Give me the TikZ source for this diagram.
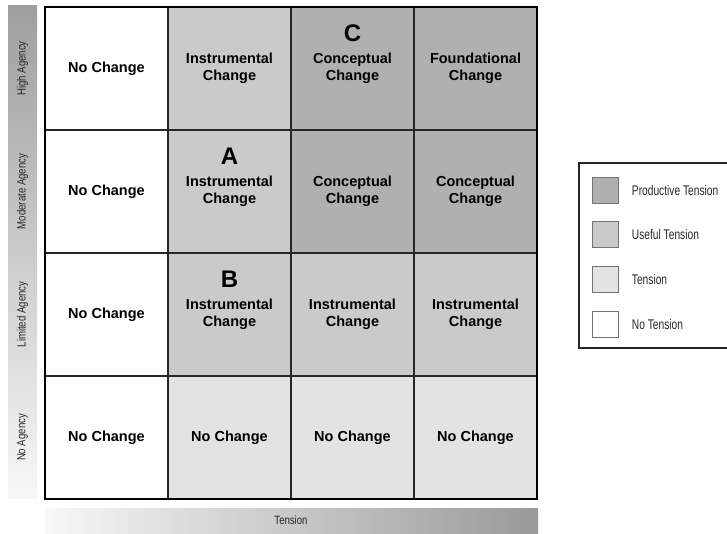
\documentclass[tikz,border=0pt]{standalone}
\usepackage{fontspec}
\setmainfont{Liberation Sans}
\newfontfamily\narrowfont[FakeStretch=0.8]{Liberation Sans}
\newfontfamily\legendfont[FakeStretch=0.73]{Liberation Sans}
\usetikzlibrary{positioning}
\definecolor{prodgray}{HTML}{B0B0B0}
\definecolor{usegray}{HTML}{CACACA}
\definecolor{tensgray}{HTML}{E3E3E3}
\tikzset{
  cell/.style={draw=black!85, line width=1.2pt, outer sep=0pt, minimum width=123pt, minimum height=123pt, align=center, font=\bfseries\fontsize{14.5}{17}\selectfont},
  letter/.style={font=\bfseries\fontsize{24}{24}\selectfont},
  axislabel/.style={font=\narrowfont\fontsize{12}{12}\selectfont, text=black!85},
  swatch/.style={draw=black!55, line width=0.8pt, minimum width=26pt, minimum height=26pt, inner sep=0pt},
  legtext/.style={font=\legendfont\fontsize{14}{14}\selectfont, text=black!85, anchor=west}
}
\begin{document}
\begin{tikzpicture}[x=1pt, y=1pt, node distance=123pt]
\useasboundingbox (0,0) rectangle (727,533);
\clip (0,0) rectangle (727,533);
% axis bars
\shade[top color=black!38, bottom color=black!3] (8,35) rectangle (37,527);
\shade[left color=black!3, right color=black!40] (45,0) rectangle (538,25);
\node[axislabel, rotate=90] (ha) at (22.5,464.5) {High Agency};
\node[axislabel, rotate=90] (ma) at (22.5,341.5) {Moderate Agency};
\node[axislabel, rotate=90] (la) at (22.5,218.5) {Limited Agency};
\node[axislabel, rotate=90] (na) at (22.5,95.5) {No Agency};
\node[axislabel] (tn) at (291,12.5) {Tension};
% high agency
\node[cell, fill=white] (h1) at (106.5,464.5) {No Change};
\node[cell, fill=usegray] (h2) [right of=h1] {Instrumental\\Change};
\node[cell, fill=prodgray] (h3) [right of=h2] {Conceptual\\Change};
\node[cell, fill=prodgray] (h4) [right of=h3] {Foundational\\Change};
% moderate agency
\node[cell, fill=white] (m1) [below of=h1] {No Change};
\node[cell, fill=usegray] (m2) [right of=m1] {Instrumental\\Change};
\node[cell, fill=prodgray] (m3) [right of=m2] {Conceptual\\Change};
\node[cell, fill=prodgray] (m4) [right of=m3] {Conceptual\\Change};
% limited agency
\node[cell, fill=white] (l1) [below of=m1] {No Change};
\node[cell, fill=usegray] (l2) [right of=l1] {Instrumental\\Change};
\node[cell, fill=usegray] (l3) [right of=l2] {Instrumental\\Change};
\node[cell, fill=usegray] (l4) [right of=l3] {Instrumental\\Change};
% no agency
\node[cell, fill=white] (n1) [below of=l1] {No Change};
\node[cell, fill=tensgray] (n2) [right of=n1] {No Change};
\node[cell, fill=tensgray] (n3) [right of=n2] {No Change};
\node[cell, fill=tensgray] (n4) [right of=n3] {No Change};
\draw[line width=2.2pt] (h1.north west) rectangle (n4.south east);
\node[letter] (C) at ([yshift=35pt]h3.center) {C};
\node[letter] (A) at ([yshift=35pt]m2.center) {A};
\node[letter] (B) at ([yshift=35pt]l2.center) {B};
% legend
\draw[line width=1.4pt, draw=black!85] (579,185) rectangle (745,370);
\node[swatch, fill=prodgray] (sp) at (605,343) {};
\node[swatch, fill=usegray] (su) [below=18pt of sp] {};
\node[swatch, fill=tensgray] (st) [below=18pt of su] {};
\node[swatch, fill=white] (sn) [below=18pt of st] {};
\node[legtext] (tp) [right=10pt of sp] {Productive Tension};
\node[legtext] (tu) [right=10pt of su] {Useful Tension};
\node[legtext] (tt) [right=10pt of st] {Tension};
\node[legtext] (tn2) [right=10pt of sn] {No Tension};
\end{tikzpicture}
\end{document}
